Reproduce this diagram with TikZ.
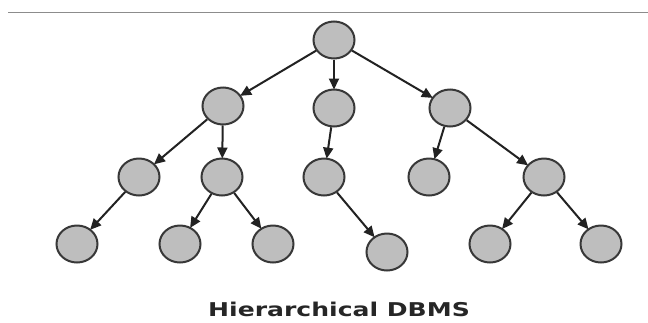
\documentclass[tikz,border=0pt]{standalone}
\usepackage{fontspec}
\setmainfont{DejaVu Sans}
\usetikzlibrary{shapes.geometric,arrows.meta}
\definecolor{nodefill}{HTML}{BEBEBE}
\definecolor{nodeline}{HTML}{383838}
\definecolor{edgeline}{HTML}{222222}
\definecolor{ruleline}{HTML}{8C8C8C}
\tikzset{
  treenode/.style={ellipse, draw=nodeline, fill=nodefill, line width=2pt,
    minimum width=41pt, minimum height=37pt, inner sep=0pt},
  link/.style={draw=edgeline, line width=2pt,
    -{Triangle[length=11pt,width=10pt]}, shorten >=-1pt},
  caption/.style={font=\bfseries\fontsize{19}{22}\selectfont, text=black!85}
}
\begin{document}
\begin{tikzpicture}[x=1pt,y=-1pt]
  \useasboundingbox (0,0) rectangle (648,322);
  \fill[white] (0,0) rectangle (648,322);
  % horizontal rule at the top
  \draw[ruleline, line width=1pt] (8,12.5) -- (648,12.5);

  % root
  \node[treenode] (r) at (334,40) {};
  % first level
  \node[treenode] (a) at (223,106) {};
  \node[treenode] (b) at (334,108) {};
  \node[treenode] (c) at (450,108) {};
  % second level
  \node[treenode] (aa) at (139,177) {};
  \node[treenode] (ab) at (222,177) {};
  \node[treenode] (ba) at (324,177) {};
  \node[treenode] (ca) at (429,177) {};
  \node[treenode] (cb) at (544,177) {};
  % third level
  \node[treenode] (aaa) at (77,244) {};
  \node[treenode] (aba) at (180,244) {};
  \node[treenode] (abb) at (273,244) {};
  \node[treenode] (baa) at (387,252) {};
  \node[treenode] (cba) at (490,244) {};
  \node[treenode] (cbb) at (601,244) {};

  % parent-child links
  \draw[link] (r) -- (a);
  \draw[link] (r) -- (b);
  \draw[link] (r) -- (c);
  \draw[link] (a) -- (aa);
  \draw[link] (a) -- (ab);
  \draw[link] (b) -- (ba);
  \draw[link] (c) -- (ca);
  \draw[link] (c) -- (cb);
  \draw[link] (aa) -- (aaa);
  \draw[link] (ab) -- (aba);
  \draw[link] (ab) -- (abb);
  \draw[link] (ba) -- (baa);
  \draw[link] (cb) -- (cba);
  \draw[link] (cb) -- (cbb);

  % caption
  \node[caption] (title) at (339,309) {\scalebox{1.32}[1]{Hierarchical DBMS}};
\end{tikzpicture}
\end{document}
